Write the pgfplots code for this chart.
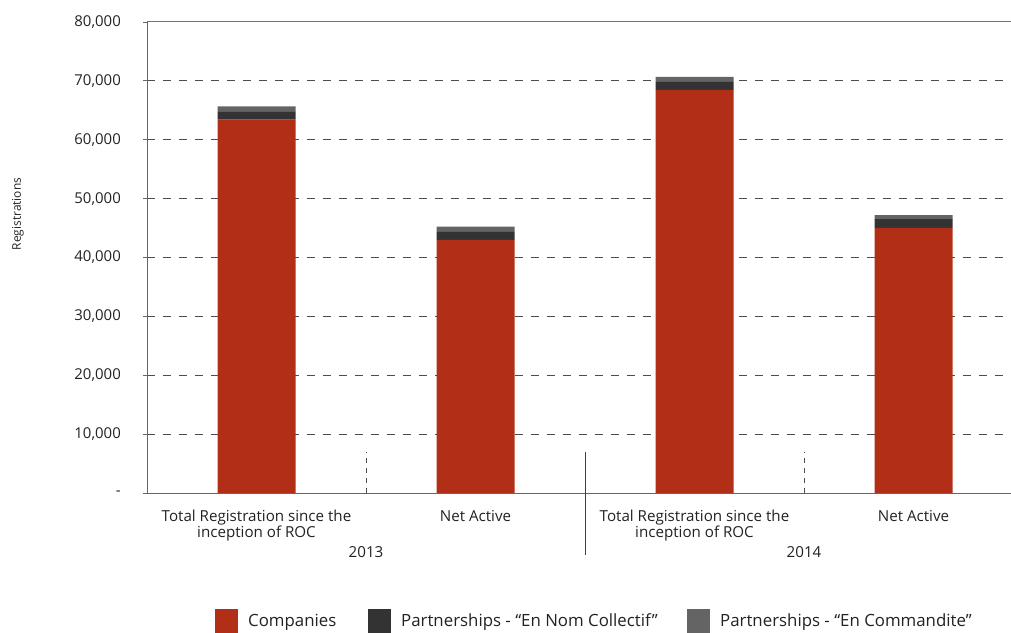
\documentclass[border=0pt]{standalone}
\usepackage{pgfplots}
\pgfplotsset{compat=1.18}
\usepackage{fontspec}
\setmainfont{Open Sans}
\definecolor{cred}{RGB}{178,46,22}
\definecolor{cdark}{RGB}{51,51,51}
\definecolor{cgray}{RGB}{100,100,100}
\definecolor{ctext}{RGB}{34,34,34}
\begin{document}
\begin{tikzpicture}
\useasboundingbox (0,0) rectangle (1011bp,633bp);
\clip (0,0) rectangle (1011bp,633bp);
\begin{axis}[
  at={(147bp,140bp)}, anchor=south west,
  scale only axis, width=876bp, height=471bp,
  xmin=-0.5, xmax=3.5, ymin=0, ymax=80000,
  ybar stacked, bar width=78bp,
  scaled y ticks=false,
  xtick={0,1,2,3},
  xticklabels={{Total Registration since the\\inception of ROC},{Net Active},{Total Registration since the\\inception of ROC},{Net Active}},
  xticklabel style={align=center, anchor=north, inner sep=0pt, yshift=-13bp, font=\fontsize{15.2}{15.2}\selectfont, text=ctext},
  x tick style={draw=none},
  ytick={0,10000,20000,30000,40000,50000,60000,70000},
  yticklabels={-,{10,000},{20,000},{30,000},{40,000},{50,000},{60,000},{70,000}},
  extra y ticks={80000}, extra y tick labels={80{,}000},
  extra y tick style={grid=none},
  yticklabel style={anchor=east, inner sep=0pt, xshift=-22bp, font=\fontsize{15}{16}\selectfont, text=ctext},
  y tick style={draw=black!60, line width=0.8pt},
  tick align=outside, major tick length=4bp,
  ymajorgrids, grid style={draw=black!70, line width=0.9pt, dash pattern=on 8bp off 8bp},
  axis line style={draw=black!60, line width=1pt},
  axis x line*=bottom, axis y line*=left,
  legend style={at={(axis description cs:0.0776,-0.2718)}, anchor=west, draw=none, inner sep=0pt,
    legend columns=3, font=\fontsize{16.9}{18}\selectfont, text=ctext,
    nodes={inner sep=0pt},
    /tikz/every odd column/.append style={column sep=10bp},
    /tikz/every even column/.append style={column sep=8bp}},
  legend image code/.code={\fill[#1] (0bp,-12bp) rectangle (23bp,12bp);},
  clip=false,
]
\addplot[fill=cred, draw=none] coordinates {(0,63400) (1,43000) (2,68450) (3,45050)};
\addlegendentry{\makebox[112bp][l]{Companies}}
\addplot[fill=cdark, draw=none] coordinates {(0,1350) (1,1350) (2,1360) (3,1480)};
\addlegendentry{\makebox[278bp][l]{Partnerships - “En Nom Collectif”}}
\addplot[fill=cgray, draw=none] coordinates {(0,900) (1,900) (2,850) (3,680)};
\addlegendentry{Partnerships - “En Commandite”}
\draw[draw=black!55, line width=1pt] (axis cs:-0.5,80000) -- (axis cs:3.5,80000);
\draw[draw=black!70, line width=0.9pt, dash pattern=on 5bp off 5bp] (axis cs:0.5,0) -- (axis cs:0.5,6964);
\draw[draw=black!70, line width=0.9pt, dash pattern=on 5bp off 5bp] (axis cs:2.5,0) -- (axis cs:2.5,6964);
\draw[draw=black!75, line width=0.9pt] (axis cs:1.5,6964) -- (axis cs:1.5,-10530);
\node[font=\fontsize{15.2}{16}\selectfont, text=ctext] at (axis cs:0.5,-10020) {2013};
\node[font=\fontsize{15.2}{16}\selectfont, text=ctext] at (axis cs:2.5,-10020) {2014};
\node[rotate=90, font=\fontsize{12}{13}\selectfont, text=ctext] at (axis cs:-1.089,47390) {Registrations};
\end{axis}
\end{tikzpicture}
\end{document}
